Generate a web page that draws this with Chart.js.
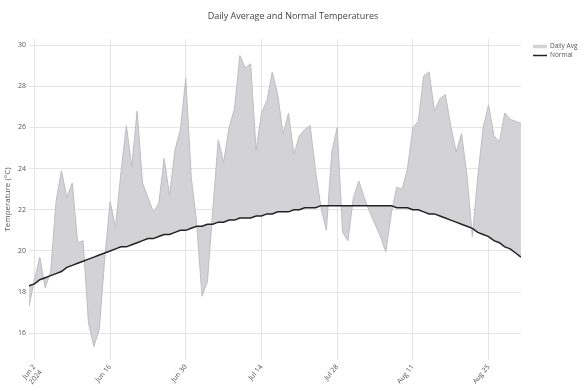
<!DOCTYPE html>
<html><head><meta charset="utf-8">
<script src="https://cdn.jsdelivr.net/npm/chart.js@4"></script>
<style>html,body{margin:0;padding:0;background:#fff}</style>
</head><body>
<canvas id="c" width="586" height="391"></canvas>
<script>
const chartTitle = 'Daily Average and Normal Temperatures';
const yAxisTitle = 'Temperature (°C)';
const startDate = '2024-06-01';
const dailyAvg = [
  17.3, 18.6, 19.7, 18.2, 19.0, 22.4, 23.9, 22.6, 23.3, 20.4,
  20.5, 16.5, 15.35, 16.2, 19.6, 22.4, 21.15, 23.8, 26.1, 24.1,
  26.8, 23.3, 22.6, 21.9, 22.3, 24.5, 22.7, 24.9, 25.9, 28.4,
  23.6, 21.4, 17.8, 18.5, 22.0, 25.4, 24.3, 26.0, 26.9, 29.5,
  28.9, 29.1, 24.9, 26.7, 27.3, 28.7, 27.6, 25.7, 26.7, 24.7,
  25.6, 25.9, 26.1, 23.9, 22.1, 21.0, 24.8, 26.0, 20.9, 20.5,
  22.6, 23.4, 22.6, 21.9, 21.3, 20.7, 19.95, 21.8, 23.1, 23.0,
  24.0, 26.0, 26.3, 28.5, 28.7, 26.8, 27.4, 27.6, 26.1, 24.8,
  25.7, 23.7, 20.7, 23.6, 26.0, 27.1, 25.6, 25.3, 26.7, 26.4,
  26.3, 26.2
];
const normal = [
  18.3, 18.4, 18.6, 18.7, 18.8, 18.9, 19.0, 19.2, 19.3, 19.4,
  19.5, 19.6, 19.7, 19.8, 19.9, 20.0, 20.1, 20.2, 20.2, 20.3,
  20.4, 20.5, 20.6, 20.6, 20.7, 20.8, 20.8, 20.9, 21.0, 21.0,
  21.1, 21.2, 21.2, 21.3, 21.3, 21.4, 21.4, 21.5, 21.5, 21.6,
  21.6, 21.6, 21.7, 21.7, 21.8, 21.8, 21.9, 21.9, 21.9, 22.0,
  22.0, 22.1, 22.1, 22.1, 22.2, 22.2, 22.2, 22.2, 22.2, 22.2,
  22.2, 22.2, 22.2, 22.2, 22.2, 22.2, 22.2, 22.2, 22.1, 22.1,
  22.1, 22.0, 22.0, 21.9, 21.8, 21.8, 21.7, 21.6, 21.5, 21.4,
  21.3, 21.2, 21.1, 20.9, 20.8, 20.7, 20.5, 20.4, 20.2, 20.1,
  19.9, 19.7
];
const xTickDays = [1, 15, 29, 43, 57, 71, 85];
const xTickLabels = [['Jun 2', '2024'], 'Jun 16', 'Jun 30', 'Jul 14', 'Jul 28', 'Aug 11', 'Aug 25'];
const yTicks = [16, 18, 20, 22, 24, 26, 28, 30];
const seriesNames = ['Daily Avg', 'Normal'];

const FONT = "'Open Sans', 'DejaVu Sans', sans-serif";
const fillGray = '#d3d3d7';
const lineGray = '#bdbdc2';
const normalColor = '#222222';

const dayIndex = dailyAvg.map((_, i) => i);

const overlay = {
  id: 'overlay',
  afterDraw(chart) {
    const ctx = chart.ctx;
    ctx.save();
    ctx.fillStyle = '#444';
    ctx.font = '9px ' + FONT;
    ctx.textAlign = 'center';
    ctx.textBaseline = 'middle';
    ctx.fillText(chartTitle, 293, 16);
    // legend
    ctx.font = '6.5px ' + FONT;
    ctx.textAlign = 'left';
    ctx.fillStyle = '#555';
    ctx.strokeStyle = fillGray;
    ctx.lineWidth = 3.5;
    ctx.beginPath(); ctx.moveTo(533, 46.5); ctx.lineTo(547, 46.5); ctx.stroke();
    ctx.fillText(seriesNames[0], 550, 46.5);
    ctx.strokeStyle = normalColor;
    ctx.lineWidth = 1.5;
    ctx.beginPath(); ctx.moveTo(533, 55.5); ctx.lineTo(547, 55.5); ctx.stroke();
    ctx.fillText(seriesNames[1], 550, 55.5);
    ctx.restore();
  }
};

new Chart(document.getElementById('c'), {
  type: 'line',
  data: {
    labels: dayIndex,
    datasets: [
      {
        label: seriesNames[1],
        data: dayIndex.map(i => ({ x: i, y: normal[i] })),
        borderColor: normalColor,
        borderWidth: 1.5,
        pointRadius: 0,
        fill: false,
        tension: 0
      },
      {
        label: seriesNames[0],
        data: dayIndex.map(i => ({ x: i, y: dailyAvg[i] })),
        borderColor: lineGray,
        borderWidth: 1,
        backgroundColor: fillGray,
        pointRadius: 0,
        fill: '-1',
        tension: 0
      }
    ]
  },
  options: {
    responsive: false,
    animation: false,
    devicePixelRatio: 1,
    layout: { padding: { top: 39, right: 65, left: 0, bottom: 0 } },
    plugins: {
      legend: { display: false },
      title: { display: false },
      tooltip: { enabled: false },
      filler: { drawTime: 'beforeDatasetsDraw' }
    },
    scales: {
      x: {
        type: 'linear',
        min: 0,
        max: dailyAvg.length - 1,
        afterBuildTicks(scale) { scale.ticks = xTickDays.map(v => ({ value: v })); },
        afterFit(scale) { scale.height = 31; },
        grid: { color: '#e5e5e5', lineWidth: 1, drawTicks: false },
        border: { display: false },
        ticks: {
          autoSkip: false,
          minRotation: 50,
          maxRotation: 50,
          padding: 3,
          color: '#555',
          font: { size: 7, family: FONT },
          callback(value) {
            const k = xTickDays.indexOf(value);
            return k >= 0 ? xTickLabels[k] : '';
          }
        }
      },
      y: {
        min: 14.7,
        max: 30.3,
        afterBuildTicks(scale) { scale.ticks = yTicks.map(v => ({ value: v })); },
        afterFit(scale) { scale.width = 29; },
        grid: { color: '#e5e5e5', lineWidth: 1, drawTicks: false },
        border: { display: false },
        ticks: {
          padding: 3,
          color: '#555',
          font: { size: 7, family: FONT }
        },
        title: {
          display: true,
          text: yAxisTitle,
          color: '#555',
          font: { size: 8, family: FONT },
          padding: { top: 3, bottom: 0 }
        }
      }
    }
  },
  plugins: [overlay]
});
</script>
</body></html>
